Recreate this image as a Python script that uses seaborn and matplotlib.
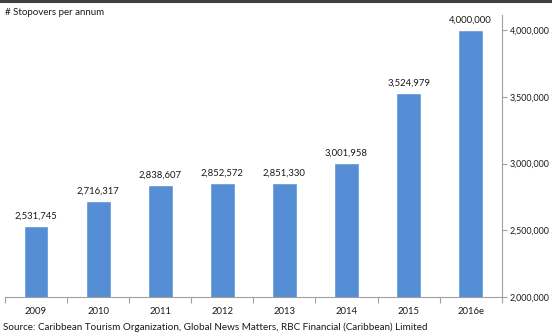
import matplotlib
matplotlib.use("Agg")
import matplotlib.pyplot as plt
from matplotlib.lines import Line2D
from matplotlib.ticker import FuncFormatter, FixedLocator
import seaborn as sns
import pandas as pd

years = ["2009", "2010", "2011", "2012", "2013", "2014", "2015", "2016e"]
stopovers = [2531745, 2716317, 2838607, 2852572, 2851330, 3001958, 3524979, 4000000]
y_ticks = [2000000, 2500000, 3000000, 3500000, 4000000]

sns.set_theme(style="white")
plt.rcParams["font.family"] = ["Lato", "DejaVu Sans"]

df = pd.DataFrame({"year": years, "stopovers": stopovers})

fig = plt.figure(figsize=(5.52, 3.36), dpi=100)
ax = fig.add_axes([0.009, 0.116, 0.900, 0.839])

sns.barplot(data=df, x="year", y="stopovers", color="#558ED5", width=0.40,
            saturation=1, ax=ax)

ax.set_ylim(2000000, 4112000)
ax.set_xlim(-0.5, len(years) - 0.5)
ax.yaxis.tick_right()
ax.yaxis.set_label_position("right")
ax.set_yticks(y_ticks)
ax.yaxis.set_major_formatter(FuncFormatter(lambda v, p: f"{int(v):,}"))
ax.tick_params(axis="y", which="major", direction="out", length=3.5, width=0.8,
               color="#A0A0A0", labelsize=6.4, labelcolor="#1a1a1a", pad=2)

ax.tick_params(axis="x", which="major", length=0, labelsize=6.8,
               labelcolor="#1a1a1a", pad=7)
ax.xaxis.set_minor_locator(FixedLocator([i - 0.5 for i in range(len(years) + 1)]))
ax.tick_params(axis="x", which="minor", direction="out", length=4, width=0.8,
               color="#A0A0A0", bottom=True)

for side in ["top", "left"]:
    ax.spines[side].set_visible(False)
for side in ["right", "bottom"]:
    ax.spines[side].set_color("#A0A0A0")
    ax.spines[side].set_linewidth(0.8)

ax.set_xlabel("")
ax.set_ylabel("")

for i, v in enumerate(stopovers):
    ax.annotate(f"{v:,}", (i, v), xytext=(0, 4), textcoords="offset points",
                ha="center", va="bottom", fontsize=6.8, color="#1a1a1a")

fig.add_artist(Line2D([0, 1], [0.997, 0.997], transform=fig.transFigure,
                      color="#404040", linewidth=2.2))
fig.text(0.009, 0.962, "# Stopovers per annum", ha="left", va="center",
         fontsize=7.0, color="#1a1a1a")
fig.text(0.006, 0.027,
         "Source: Caribbean Tourism Organization, Global News Matters, RBC Financial (Caribbean) Limited",
         ha="left", va="center", fontsize=7.1, color="#1a1a1a")

fig.savefig("out.png", dpi=100)
